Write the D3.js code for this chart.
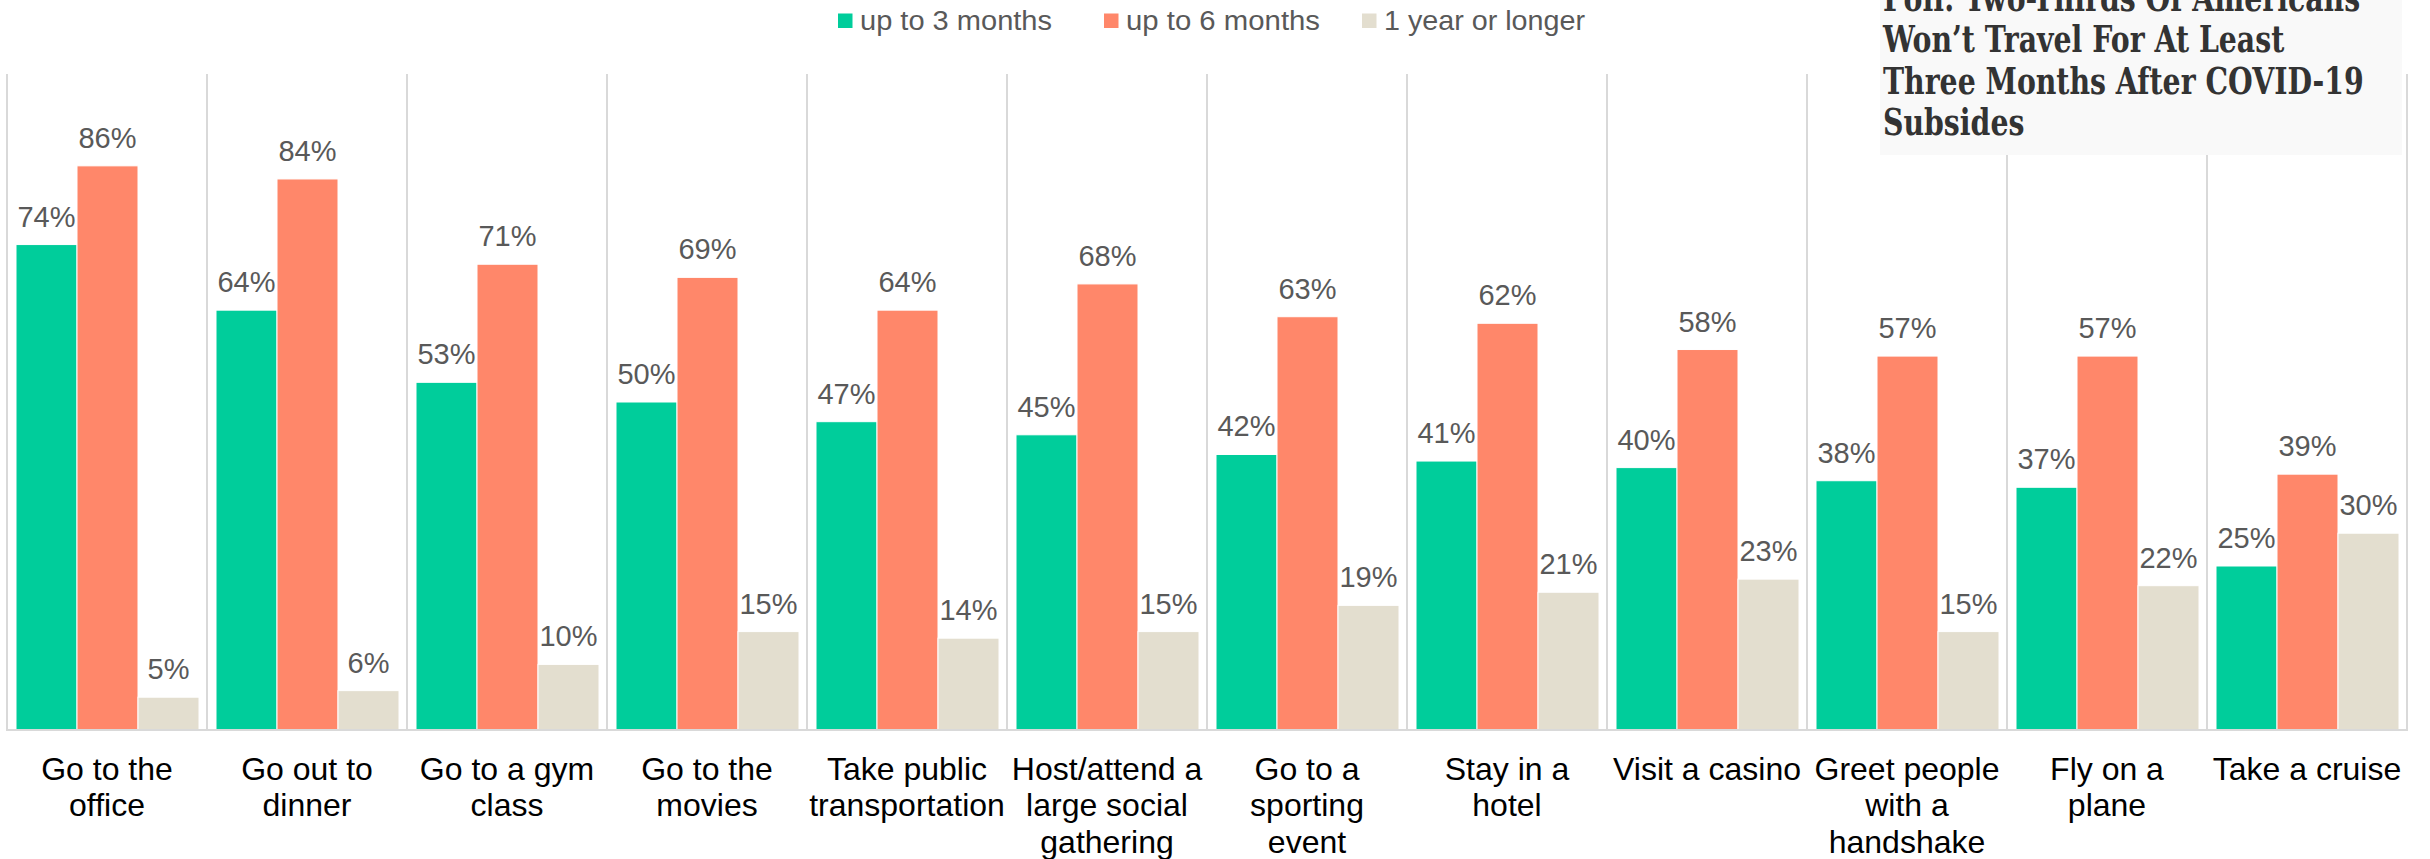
<!DOCTYPE html>
<html>
<head>
<meta charset="utf-8">
<script src="https://cdn.jsdelivr.net/npm/d3@7"></script>
<style>
  html, body { margin: 0; padding: 0; background: #ffffff; }
  svg { display: block; }
</style>
</head>
<body>
<svg id="chart" width="2430" height="859"></svg>
<script>
// Survey: how long people would wait before resuming each activity
const categories = [
  "Go to the\noffice",
  "Go out to\ndinner",
  "Go to a gym\nclass",
  "Go to the\nmovies",
  "Take public\ntransportation",
  "Host/attend a\nlarge social\ngathering",
  "Go to a\nsporting\nevent",
  "Stay in a\nhotel",
  "Visit a casino",
  "Greet people\nwith a\nhandshake",
  "Fly on a\nplane",
  "Take a cruise"
];
const seriesNames = ["up to 3 months", "up to 6 months", "1 year or longer"];
const upTo3Months  = [74, 64, 53, 50, 47, 45, 42, 41, 40, 38, 37, 25];
const upTo6Months  = [86, 84, 71, 69, 64, 68, 63, 62, 58, 57, 57, 39];
const oneYearPlus  = [5, 6, 10, 15, 14, 15, 19, 21, 23, 15, 22, 30];
const seriesColors = ["#00CD9B", "#FF876A", "#E3DECF"];
const titleLines = [
  "Poll: Two-Thirds Of Americans",
  "Won\u2019t Travel For At Least",
  "Three Months After COVID-19",
  "Subsides"
];

const seriesValues = [upTo3Months, upTo6Months, oneYearPlus];
const rows = categories.map((c, i) => ({
  category: c,
  values: seriesNames.map((s, j) => ({ series: s, value: seriesValues[j][i] }))
}));

const svg = d3.select("#chart");
const plotLeft = 7, plotRight = 2407, plotTop = 74, plotBottom = 730;

const x0 = d3.scaleBand().domain(categories).range([plotLeft, plotRight]).paddingInner(0).paddingOuter(0);
const x1 = d3.scaleBand().domain(seriesNames).range([9, 192]).padding(0);
const y = d3.scaleLinear().domain([0, 100]).range([plotBottom, plotTop]);
const color = d3.scaleOrdinal().domain(seriesNames).range(seriesColors);

// Vertical category dividers
const dividers = categories.map(c => x0(c)).concat([plotRight]);
svg.append("g").selectAll("line").data(dividers).join("line")
  .attr("x1", d => d).attr("x2", d => d)
  .attr("y1", plotTop).attr("y2", plotBottom)
  .attr("stroke", "#d9d9d9").attr("stroke-width", 2);

// Bars
const groups = svg.append("g").selectAll("g").data(rows).join("g")
  .attr("transform", d => `translate(${x0(d.category)},0)`);

groups.selectAll("rect").data(d => d.values).join("rect")
  .attr("x", d => x1(d.series))
  .attr("width", x1.bandwidth())
  .attr("y", d => y(d.value))
  .attr("height", d => y(0) - y(d.value))
  .attr("fill", d => color(d.series))
  .attr("stroke", "#ffffff").attr("stroke-width", 1);

// Value labels
groups.selectAll("text.val").data(d => d.values).join("text")
  .attr("class", "val")
  .attr("x", d => x1(d.series) + x1.bandwidth() / 2)
  .attr("y", d => y(d.value) - 18)
  .attr("text-anchor", "middle")
  .attr("font-family", "Liberation Sans, Arial, sans-serif")
  .attr("font-size", 29)
  .attr("fill", "#595959")
  .text(d => d.value + "%");

// Baseline
svg.append("line")
  .attr("x1", plotLeft - 1).attr("x2", plotRight + 1)
  .attr("y1", plotBottom).attr("y2", plotBottom)
  .attr("stroke", "#d9d9d9").attr("stroke-width", 2);

// Category axis labels
const xAxis = svg.append("g");
categories.forEach(c => {
  const t = xAxis.append("text")
    .attr("x", x0(c) + x0.bandwidth() / 2)
    .attr("y", 780)
    .attr("text-anchor", "middle")
    .attr("font-family", "Liberation Sans, Arial, sans-serif")
    .attr("font-size", 32)
    .attr("fill", "#000000");
  c.split("\n").forEach((line, i) => {
    t.append("tspan")
      .attr("x", x0(c) + x0.bandwidth() / 2)
      .attr("dy", i === 0 ? 0 : 36.3)
      .text(line);
  });
});

// Legend
const legendX = [838, 1104, 1362];
const legendTextWidth = [192, 194, 201];
const legend = svg.append("g");
seriesNames.forEach((s, i) => {
  legend.append("rect")
    .attr("x", legendX[i]).attr("y", 13.5)
    .attr("width", 14.5).attr("height", 14.5)
    .attr("fill", color(s));
  legend.append("text")
    .attr("x", legendX[i] + 22).attr("y", 29.5)
    .attr("font-family", "Liberation Sans, Arial, sans-serif")
    .attr("font-size", 27.5)
    .attr("textLength", legendTextWidth[i])
    .attr("lengthAdjust", "spacingAndGlyphs")
    .attr("fill", "#595959")
    .text(s);
});

// Headline panel
const panel = svg.append("g");
panel.append("rect")
  .attr("x", 1880).attr("y", 0)
  .attr("width", 522).attr("height", 155)
  .attr("fill", "#f9f9f9");
const baselines = [11, 52.5, 94, 135];
const headline = panel.append("g");
const titleTexts = headline.selectAll("text").data(titleLines).join("text")
  .attr("x", 0)
  .attr("y", (d, i) => baselines[i])
  .attr("font-family", "DejaVu Serif, Liberation Serif, serif")
  .attr("font-weight", "bold")
  .attr("font-size", 37)
  .attr("fill", "#333333")
  .text(d => d);
// narrow the headline so its widest line spans the panel text width
const ref = titleTexts.filter((d, i) => i === 2).node();
const squeeze = 481 / ref.getComputedTextLength();
headline.attr("transform", `translate(1883,0) scale(${squeeze},1)`);
</script>
</body>
</html>
